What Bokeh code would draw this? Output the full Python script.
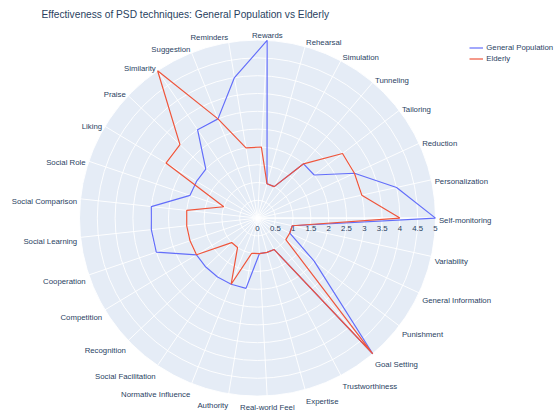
import numpy as np
from bokeh.plotting import figure
from bokeh.models import ColumnDataSource, Range1d, Label
from bokeh.core.properties import value
from bokeh.embed import file_html
from bokeh.resources import INLINE

categories = ["Self-monitoring", "Personalization", "Reduction", "Tailoring", "Tunneling",
              "Simulation", "Rehearsal", "Rewards", "Reminders", "Suggestion", "Similarity",
              "Praise", "Liking", "Social Role", "Social Comparison", "Social Learning",
              "Cooperation", "Competition", "Recognition", "Social Facilitation",
              "Normative Influence", "Authority", "Real-world Feel", "Expertise",
              "Trustworthiness", "Goal Setting", "Punishment", "General Information", "Variability"]
general_population = [5, 4, 3, 2, 2, 1, 1, 5, 4, 3, 3, 2, 2, 2, 3, 3, 3, 2, 2, 2, 2, 2, 1, 1, 1, 5, 2, 1, 1]
elderly = [4, 3, 3, 3, 2, 1, 1, 2, 2, 3, 5, 3, 3, 1, 2, 2, 2, 2, 1, 1, 2, 1, 1, 1, 1, 5, 1, 1, 1]
radial_ticks = [0, 0.5, 1, 1.5, 2, 2.5, 3, 3.5, 4, 4.5, 5]
radial_tick_labels = ["0", "0.5", "1", "1.5", "2", "2.5", "3", "3.5", "4", "4.5", "5"]
title_text = "Effectiveness of PSD techniques: General Population vs Elderly"

W, H = 557, 410
CX, CY = 257.0, 217.6
S = 35.6
RMAX = 5
FONT = "Liberation Sans"
TXT = "#2a3f5f"
LFS = 7.8

p = figure(width=W, height=H, output_backend="svg", toolbar_location=None,
           x_range=Range1d(-CX / S, (W - CX) / S), y_range=Range1d(-(H - CY) / S, CY / S),
           x_axis_location=None, y_axis_location=None, min_border=0)
p.grid.visible = False
p.outline_line_color = None
p.background_fill_color = "white"
p.border_fill_color = "white"

n = len(categories)
theta = 2 * np.pi * np.arange(n) / n

# polar background
p.circle(x=[0], y=[0], radius=RMAX, fill_color="#E5ECF6", line_color=None)
# radial grid circles
rg = [t for t in radial_ticks if t > 0]
p.circle(x=[0] * len(rg), y=[0] * len(rg), radius=rg, fill_color=None,
         line_color="white", line_width=0.9)
# angular grid spokes
p.segment(x0=np.zeros(n), y0=np.zeros(n), x1=RMAX * np.cos(theta), y1=RMAX * np.sin(theta),
          line_color="white", line_width=0.9)
# radial axis line
p.segment(x0=[0], y0=[0], x1=[RMAX], y1=[0], line_color="white", line_width=1.3)

# radial tick labels
p.text(x=radial_ticks, y=[0] * len(radial_ticks), text=radial_tick_labels, y_offset=10,
       text_align="center", text_baseline="alphabetic", text_font=value(FONT),
       text_font_size=f"{LFS}px", text_color=TXT)

# angular labels (plotly-like placement)
pad = 3.4
c, s_ = np.cos(theta), np.sin(theta)
ff = np.where(s_ > 0, 0.2, 1.0)
xo = c * pad
yo = -s_ * (pad + LFS * ff) + np.abs(c) * LFS * 0.35
align = np.where(np.abs(c) < 0.1, "center", np.where(c > 0, "left", "right"))
lab = ColumnDataSource(dict(x=RMAX * c, y=RMAX * s_, t=categories, xo=xo, yo=yo, a=align))
p.text(x="x", y="y", text="t", x_offset="xo", y_offset="yo", text_align="a",
       text_baseline="alphabetic", text_font=value(FONT), text_font_size=f"{LFS}px",
       text_color=TXT, source=lab)

def closed(vals):
    r = np.array(vals + vals[:1], dtype=float)
    th = np.append(theta, theta[0])
    return r * np.cos(th), r * np.sin(th)

gx, gy = closed(general_population)
ex, ey = closed(elderly)
p.line(gx, gy, line_color="#636efa", line_width=1.2, legend_label="General Population")
p.line(ex, ey, line_color="#EF553B", line_width=1.2, legend_label="Elderly")

lg = p.legend[0]
lg.location = (469.3, 346.8)
lg.padding = 0
lg.margin = 0
lg.spacing = 2
lg.glyph_width = 14
lg.glyph_height = 9
lg.label_height = 9
lg.label_standoff = 3
lg.label_text_font = FONT
lg.label_text_font_size = f"{LFS}px"
lg.label_text_color = TXT
lg.border_line_color = None
lg.background_fill_alpha = 0

p.add_layout(Label(x=41, y=396, x_units="screen", y_units="screen", text=title_text,
                   text_font=FONT, text_font_size="10.2px", text_color=TXT,
                   text_baseline="alphabetic"))

open("out.html", "w").write(file_html(p, INLINE))
